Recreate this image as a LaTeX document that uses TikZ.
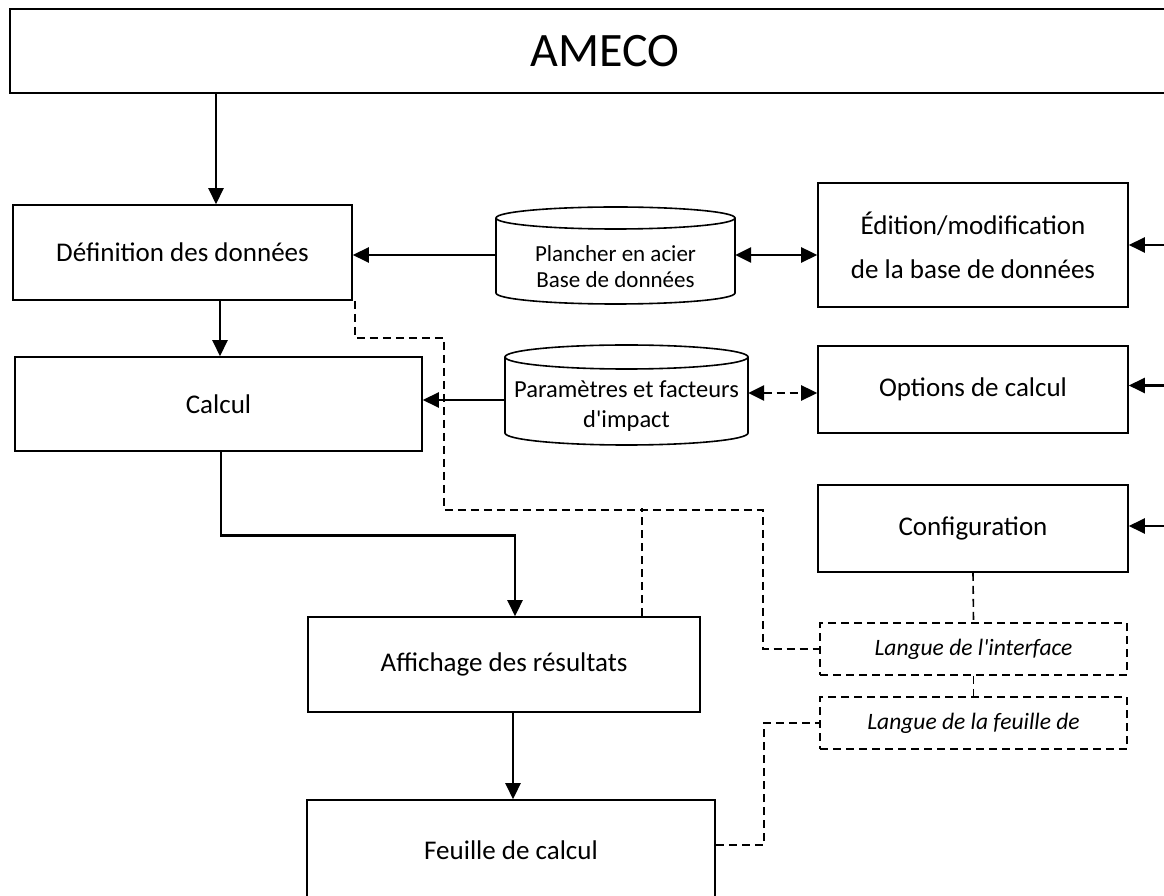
\documentclass[tikz,border=0pt]{standalone}
\usepackage{fontspec}
\setmainfont{Carlito}
\usetikzlibrary{arrows.meta}
% database cylinder drawn round a node: name, half width, ellipse radius, top, bottom
\newcommand{\dbdraw}[5]{%
  \draw[line width=1.6pt] ([shift={(-#2,#4-#3)}]#1.center) -- ([shift={(-#2,-#5+#3)}]#1.center)
    arc[start angle=180, end angle=360, x radius=#2, y radius=#3]
    -- ([shift={(#2,#4-#3)}]#1.center);
  \draw[line width=1.6pt] ([yshift=#4pt-#3pt]#1.center) ellipse[x radius=#2, y radius=#3];
}

\begin{document}
\begin{tikzpicture}[x=1pt, y=1pt,
  >={Triangle[length=16pt,width=15pt]},
  box/.style={draw, line width=1.6pt, inner sep=0pt, align=center, font=\fontsize{27}{44}\selectfont},
  optbox/.style={draw, line width=1.6pt, dash pattern=on 8pt off 5pt, inner sep=0pt, font=\fontsize{23.5}{28}\itshape\selectfont},
  db/.style={inner sep=0pt, align=center},
  arr/.style={line width=2.6pt, ->},
  dbl/.style={line width=2.6pt, <->},
  link/.style={line width=1.6pt, dash pattern=on 8pt off 5pt}]
\useasboundingbox (0,0) rectangle (1164,895);
\clip (0,0) rectangle (1164,895);

% boxes
\node[box, minimum width=1190, minimum height=84, font=\fontsize{48}{58}\selectfont] (ameco) at (605,844) {AMECO};
\node[box, minimum width=339, minimum height=95] (def) at (182.5,642.5) {Définition des données};
\node[box, minimum width=407, minimum height=94] (calc) at (218.5,491) {Calcul};
\node[box, minimum width=392, minimum height=95] (aff) at (504,230.5) {Affichage des résultats};
\node[box, minimum width=408, minimum height=100] (feuille) at (511,45) {Feuille de calcul};
\node[box, minimum width=310, minimum height=124] (edit) at (973,650) {Édition/modification\\de la base de données};
\node[box, minimum width=310, minimum height=87] (opt) at (973,505.5) {Options de calcul};
\node[box, minimum width=310, minimum height=87] (conf) at (973,366.5) {Configuration};
\node[optbox, minimum width=307, minimum height=52] (lint) at (973.5,246) {Langue de l\textquotesingle interface};
\node[optbox, minimum width=307, minimum height=52] (lfeu) at (973.5,172) {Langue de la feuille de};

% databases
\node[db, minimum width=239, font=\fontsize{23}{26}\selectfont] (db1) at (615.5,628) {Plancher en acier\\Base de données};
\dbdraw{db1}{119.5}{11}{60}{37}
\node[db, minimum width=243, font=\fontsize{24.5}{30}\selectfont] (db2) at (626.5,489) {Paramètres et facteurs\\d\textquotesingle impact};
\dbdraw{db2}{121.5}{12}{61}{39}

% main flow
\path ([xshift=33.5pt]def.north) coordinate (d1);
\draw[arr] (d1 |- ameco.south) -- (d1);
\path ([xshift=37.5pt]def.south) coordinate (d2);
\draw[arr] (d2) -- (d2 |- calc.north);
\draw[arr] ([xshift=2.5pt]calc.south) -- ++(0,-84) -| ([xshift=11pt]aff.north);
\path ([xshift=9pt]aff.south) coordinate (d3);
\draw[arr] (d3) -- (d3 |- feuille.north);

% databases to boxes
\path ([yshift=12pt]db1.west) coordinate (b1w) ([yshift=12pt]db1.east) coordinate (b1e);
\draw[arr] (b1w) -- (b1w -| def.east);
\draw[dbl] (b1e) -- (b1e -| edit.west);
\path ([yshift=6pt]db2.west) coordinate (b2w) ([yshift=13pt]db2.east) coordinate (b2e);
\draw[arr] (b2w) -- (b2w -| calc.east);
\draw[dbl, dash pattern=on 8pt off 5pt] (b2e) -- (b2e -| opt.west);

% inputs from the right
\draw[arr] ([xshift=60pt]edit.east) -- (edit.east);
\draw[arr] ([shift={(60,4)}]opt.east) -- ([yshift=4pt]opt.east);
\draw[arr] ([shift={(60,2.5)}]conf.east) -- ([yshift=2.5pt]conf.east);

% language links
\draw[link] ([xshift=2pt]def.south east) -- ++(0,-37) -- ++(89,0) -- ++(0,-172) -- ++(319,0) |- (lint.west);
\draw[link] ([xshift=138pt]aff.north) -- ++(0,108);
\draw[link] (conf.south) -- (lint.north);
\draw[link] (lint.south) -- (lfeu.north);
\draw[link] ([yshift=5pt]feuille.east) -- ++(48,0) |- (lfeu.west);
\end{tikzpicture}
\end{document}
